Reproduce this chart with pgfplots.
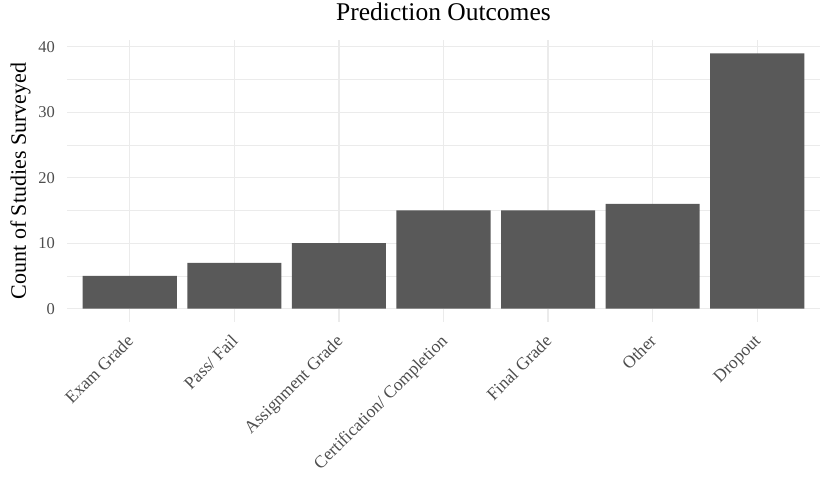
\documentclass[border=0pt]{standalone}
\usepackage{pgfplots}
\pgfplotsset{compat=1.18}
\usepackage{fontspec}
\setmainfont{Liberation Serif}
\definecolor{barfill}{HTML}{595959}
\definecolor{gridc}{HTML}{EBEBEB}
\definecolor{ticktext}{HTML}{4D4D4D}
\begin{document}
\begin{tikzpicture}
\useasboundingbox (-67pt,-163.5pt) rectangle (763pt,321.5pt);
\begin{axis}[
  scale only axis,
  width=753pt,
  height=281pt,
  at={(0,0)}, anchor=south west,
  ybar,
  bar width=0.9,
  xmin=-0.6, xmax=6.6,
  ymin=-1.95, ymax=40.95,
  xtick={0,...,6},
  xticklabels={{Exam Grade},{Pass/ Fail},{Assignment Grade},{Certification/ Completion},{Final Grade},{Other},{Dropout}},
  ytick={0,10,20,30,40},
  minor ytick={5,15,25,35},
  xmajorgrids, ymajorgrids, yminorgrids,
  major grid style={draw=gridc, line width=1.2pt},
  minor grid style={draw=gridc, line width=0.6pt},
  axis line style={draw=none},
  major tick length=0pt, minor tick length=0pt,
  tick style={draw=none},
  /pgf/number format/assume math mode=true,
  yticklabel style={font=\fontsize{16.5}{19}\selectfont, text=ticktext, inner sep=0pt, anchor=east, xshift=-12pt},
  xticklabel style={font=\fontsize{17.5}{20}\selectfont, text=ticktext, inner sep=0pt, xshift=-4pt, yshift=-12pt, rotate=45, anchor=north east},
  title={Prediction Outcomes},
  title style={font=\fontsize{25.5}{29}\selectfont, at={(0.5,1)}, anchor=base, yshift=13.5pt, inner sep=0pt},
  ylabel={Count of Studies Surveyed},
  ylabel style={font=\fontsize{22}{26}\selectfont, at={(axis description cs:-0.0545,0.5)}, anchor=base, inner sep=0pt},
]
\addplot[fill=barfill, draw=none] coordinates {(0,5) (1,7) (2,10) (3,15) (4,15) (5,16) (6,39)};
\end{axis}
\end{tikzpicture}
\end{document}
